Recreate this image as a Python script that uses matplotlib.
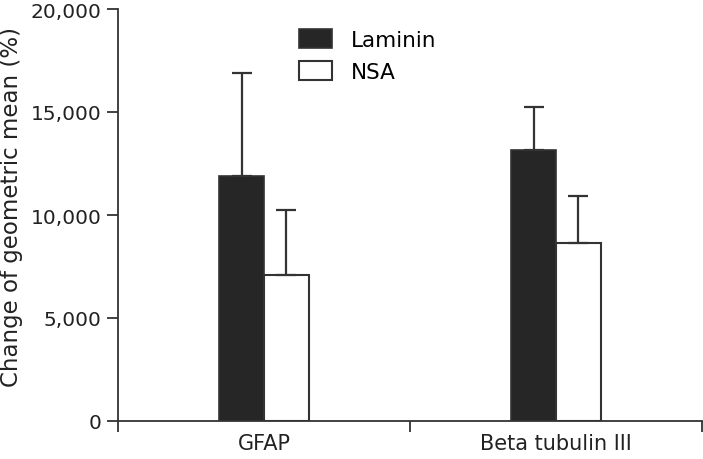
import matplotlib
matplotlib.use("Agg")
import matplotlib.pyplot as plt
import numpy as np

categories = ["GFAP", "Beta tubulin III"]
series_names = ["Laminin", "NSA"]
laminin = [11890, 13150]
laminin_err = [5000, 2090]
nsa = [7090, 8640]
nsa_err = [3150, 2280]
yticks = [0, 5000, 10000, 15000, 20000]
ytick_labels = ["0", "5,000", "10,000", "15,000", "20,000"]

plt.rcParams['font.family'] = ['DejaVu Sans']

fig = plt.figure(figsize=(7.03, 4.60), dpi=100)
ax = fig.add_axes([118/703, 1-422/460, (702-118)/703, (422-10)/460])

x = np.arange(len(categories))
w = 0.154
edge = "#333333"
ax.bar(x - w/2, laminin, w, color="#262626", edgecolor=edge, linewidth=1.2,
       yerr=[[0]*len(laminin), laminin_err], error_kw=dict(ecolor=edge, elinewidth=1.6, capsize=7, capthick=1.6),
       label=series_names[0], zorder=2)
ax.bar(x + w/2, nsa, w, color="white", edgecolor=edge, linewidth=1.5,
       yerr=[[0]*len(nsa), nsa_err], error_kw=dict(ecolor=edge, elinewidth=1.6, capsize=7, capthick=1.6),
       label=series_names[1], zorder=2)

ax.set_xlim(-0.5, 1.5)
ax.set_ylim(0, 20000)
ax.set_yticks(yticks)
ax.set_yticklabels(ytick_labels)
ax.set_xticks([-0.5, 0.5, 1.5])
ax.set_xticklabels([])
ax.set_xticks(x, minor=True)
ax.set_xticklabels(categories, minor=True)
ax.tick_params(axis='x', which='minor', length=0, pad=9, labelsize=15, colors="#222222")
ax.tick_params(axis='x', which='major', length=8, width=1.3, direction='out', color=edge)
ax.tick_params(axis='y', length=8, width=1.3, direction='out', color=edge, labelsize=14.5, labelcolor="#222222", pad=4)

for s in ['top', 'right']:
    ax.spines[s].set_visible(False)
for s in ['left', 'bottom']:
    ax.spines[s].set_color(edge)
    ax.spines[s].set_linewidth(1.3)

fig.text(12/703, 1-207/460, "Change of geometric mean (%)", fontsize=16.5, color="#222222",
         rotation=90, ha='center', va='center')

ax.legend(loc='upper left', bbox_to_anchor=(0.288, 0.982), frameon=False, fontsize=15.5,
          handlelength=1.55, handleheight=0.95, handletextpad=0.85, labelspacing=0.52,
          borderaxespad=0.2)

fig.savefig("out.png", dpi=100)
